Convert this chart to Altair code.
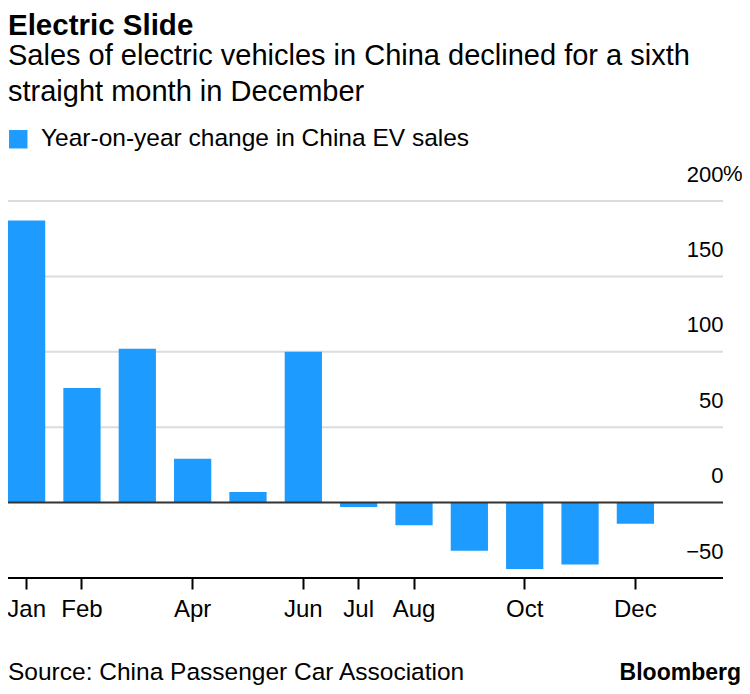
import altair as alt
import pandas as pd

# ---- data ----
months = ["Jan", "Feb", "Mar", "Apr", "May", "Jun", "Jul", "Aug", "Sep", "Oct", "Nov", "Dec"]
yoy_change = [187, 76, 102, 29, 7, 100, -3, -15, -32, -44, -41, -14]
x_tick_months = ["Jan", "Feb", "Apr", "Jun", "Jul", "Aug", "Oct", "Dec"]
y_ticks = [-50, 0, 50, 100, 150, 200]
grid_values = [50, 100, 150, 200]
series_name = "Year-on-year change in China EV sales"

title_text = "Electric Slide"
subtitle_lines = ["Sales of electric vehicles in China declined for a sixth",
                  "straight month in December"]
source_text = "Source: China Passenger Car Association"
brand_text = "Bloomberg"

df = pd.DataFrame({"month": months, "change": yoy_change, "series": [series_name] * len(months)})

W, H = 715, 377
FONT = "Liberation Sans"
BLUE = "#1d9bff"
BLACK = "#000000"

y_scale = alt.Scale(domain=[-50, 200], nice=False, zero=False)

grid = alt.Chart(pd.DataFrame({"v": grid_values})).mark_rule(
    color="#dcdcdc", strokeWidth=2
).encode(y=alt.Y("v:Q", scale=y_scale))

bars = alt.Chart(df).mark_bar(color=BLUE).encode(
    x=alt.X(
        "month:N",
        sort=months,
        scale=alt.Scale(domain=months, range=[0, 646], paddingInner=0.327, paddingOuter=0),
        axis=alt.Axis(values=x_tick_months, title=None, domain=False, ticks=True, tickSize=11,
                      tickWidth=2, tickColor=BLACK, labelFont=FONT, labelFontSize=24,
                      labelColor=BLACK, labelPadding=8, labelAngle=0, grid=False),
    ),
    y=alt.Y(
        "change:Q",
        scale=y_scale,
        axis=alt.Axis(orient="right", values=y_ticks, title=None, domain=False, ticks=False,
                      grid=False, labelAlign="right", labelBaseline="alphabetic",
                      labelOffset=-20, labelPadding=0,
                      labelFont=FONT, labelFontSize=22, labelColor=BLACK),
    ),
    color=alt.Color(
        "series:N",
        scale=alt.Scale(domain=[series_name], range=[BLUE]),
        legend=alt.Legend(title=None, orient="none", legendX=-2, legendY=-74, padding=0,
                          symbolType="square", symbolSize=340, symbolStrokeWidth=0,
                          symbolFillColor=BLUE, labelFont=FONT, labelFontSize=24.5,
                          labelColor=BLACK, labelOffset=10.5, labelLimit=0),
    ),
)

zero_rule = alt.Chart(pd.DataFrame({"v": [0]})).mark_rule(color="#333333", strokeWidth=2).encode(y="v:Q")
base_rule = alt.Chart(pd.DataFrame({"v": [-50]})).mark_rule(color=BLACK, strokeWidth=2).encode(y="v:Q")

pct = alt.Chart(pd.DataFrame({"v": [200]})).mark_text(
    text="%", align="left", baseline="alphabetic", dy=-20, font=FONT, fontSize=22, color=BLACK
).encode(y="v:Q", x=alt.value(W))


def label(text, x, y, size, weight="normal", align="left"):
    return alt.Chart(pd.DataFrame({"t": [text]})).mark_text(
        align=align, baseline="alphabetic", font=FONT, fontSize=size, fontWeight=weight, color=BLACK
    ).encode(text="t:N", x=alt.value(x), y=alt.value(y))


texts = [
    label(title_text, 0, -166.5, 29.5, "bold"),
    label(subtitle_lines[0], 0, -136.5, 29),
    label(subtitle_lines[1], 0, -100.5, 29),
    label(source_text, 0, 479, 24.5),
    label(brand_text, 733, 479, 23, "bold", "right"),
]

chart = alt.layer(grid, bars, zero_rule, base_rule, pct, *texts).properties(
    width=W, height=H,
    autosize=alt.AutoSizeParams(type="none"),
    padding={"left": 0, "top": 193, "right": 19, "bottom": 108},
).configure_view(stroke=None)

chart.save("out.html", embed_options={"renderer": "svg", "actions": False})
